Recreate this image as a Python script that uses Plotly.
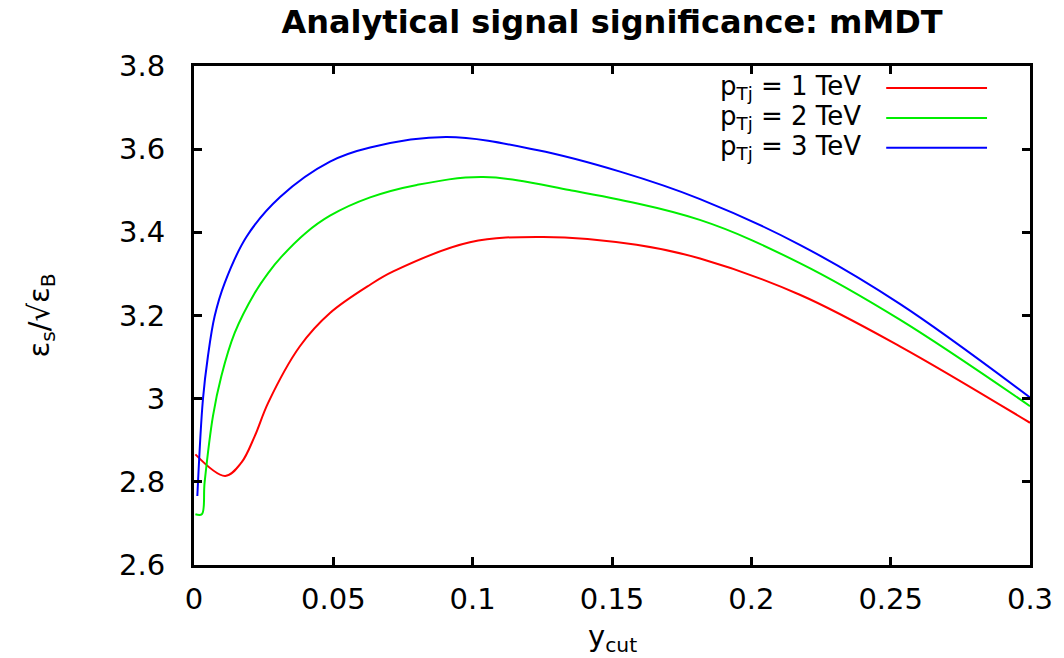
import plotly.graph_objects as go

# y_cut sample points and significance for each jet pT
ycut_1tev = [0.0005, 0.0112, 0.017, 0.0218, 0.0266, 0.038, 0.0488, 0.0632, 0.0715,
             0.099, 0.1253, 0.1588, 0.1816, 0.2174, 0.2533, 0.3]
sig_1tev = [2.866, 2.814, 2.846, 2.91, 2.99, 3.126, 3.206, 3.274, 3.306,
            3.376, 3.389, 3.37, 3.337, 3.25, 3.126, 2.942]

ycut_2tev = [0.0005, 0.0028, 0.0038, 0.0068, 0.0098, 0.0146, 0.0218, 0.0266, 0.0315,
             0.04, 0.0488, 0.0632, 0.08, 0.1038, 0.1347, 0.1815, 0.2174, 0.2533, 0.3]
sig_2tev = [2.722, 2.722, 2.798, 2.958, 3.054, 3.158, 3.254, 3.302, 3.342,
            3.398, 3.44, 3.484, 3.514, 3.533, 3.502, 3.43, 3.326, 3.19, 2.982]

ycut_3tev = [0.0012, 0.0032, 0.005, 0.0074, 0.011, 0.0189, 0.0309, 0.0488, 0.0632,
             0.0907, 0.123, 0.1529, 0.1816, 0.2174, 0.2533, 0.3]
sig_3tev = [2.766, 2.998, 3.102, 3.198, 3.278, 3.39, 3.485, 3.57, 3.604,
            3.629, 3.598, 3.546, 3.48, 3.37, 3.228, 3.003]

series_labels = ["p<sub>Tj</sub> = 1 TeV", "p<sub>Tj</sub> = 2 TeV", "p<sub>Tj</sub> = 3 TeV"]
series_colors = ["#ff0000", "#00ee00", "#0000ff"]

FONT = "DejaVu Sans"

fig = go.Figure()
for xs, ys, name, col in zip([ycut_1tev, ycut_2tev, ycut_3tev],
                             [sig_1tev, sig_2tev, sig_3tev],
                             series_labels, series_colors):
    fig.add_trace(go.Scatter(x=xs, y=ys, mode="lines", name=name,
                             line=dict(color=col, width=2, shape="spline", smoothing=1.0),
                             showlegend=False))

# gnuplot-style key: label on the left, line sample on the right
row_y = [0.956, 0.896, 0.836]
for name, col, yy in zip(series_labels, series_colors, row_y):
    fig.add_annotation(xref="paper", yref="paper", x=0.80, y=yy, text=name,
                       showarrow=False, xanchor="right", yanchor="middle",
                       font=dict(family=FONT, size=26, color="black"))
    fig.add_shape(type="line", xref="paper", yref="paper",
                  x0=0.828, x1=0.9486, y0=yy, y1=yy,
                  line=dict(color=col, width=2))

axis_common = dict(
    showline=True, linecolor="black", linewidth=3, mirror="ticks",
    ticks="inside", ticklen=8, tickwidth=3, tickcolor="black",
    showgrid=False, zeroline=False,
    tickfont=dict(family=FONT, size=29, color="black"),
)

fig.update_xaxes(range=[0, 0.3], dtick=0.05, tick0=0, ticklabelstandoff=6, **axis_common)
fig.update_yaxes(range=[2.6, 3.8], dtick=0.2, tick0=2.6, ticklabelstandoff=20, **axis_common)

fig.add_annotation(xref="paper", yref="paper", x=(40 - 194) / 836, y=0.5,
                   text="ε<sub>s</sub>/√ε<sub>B</sub>", textangle=-90, showarrow=False,
                   xanchor="center", yanchor="middle",
                   font=dict(family=FONT, size=29, color="black"))
fig.add_annotation(xref="paper", yref="paper", x=0.5, y=-0.146,
                   text="y<sub>cut</sub>", showarrow=False,
                   xanchor="center", yanchor="middle",
                   font=dict(family=FONT, size=29, color="black"))

fig.update_layout(
    width=1064, height=658,
    margin=dict(l=194, r=34, t=66, b=93),
    paper_bgcolor="white", plot_bgcolor="white",
    title=dict(text="<b>Analytical signal significance: mMDT</b>",
               x=0.5, xref="paper", xanchor="center",
               y=1 - 22 / 658, yref="container", yanchor="middle",
               font=dict(family=FONT, size=32, color="black")),
)

fig.write_html("out.html")
